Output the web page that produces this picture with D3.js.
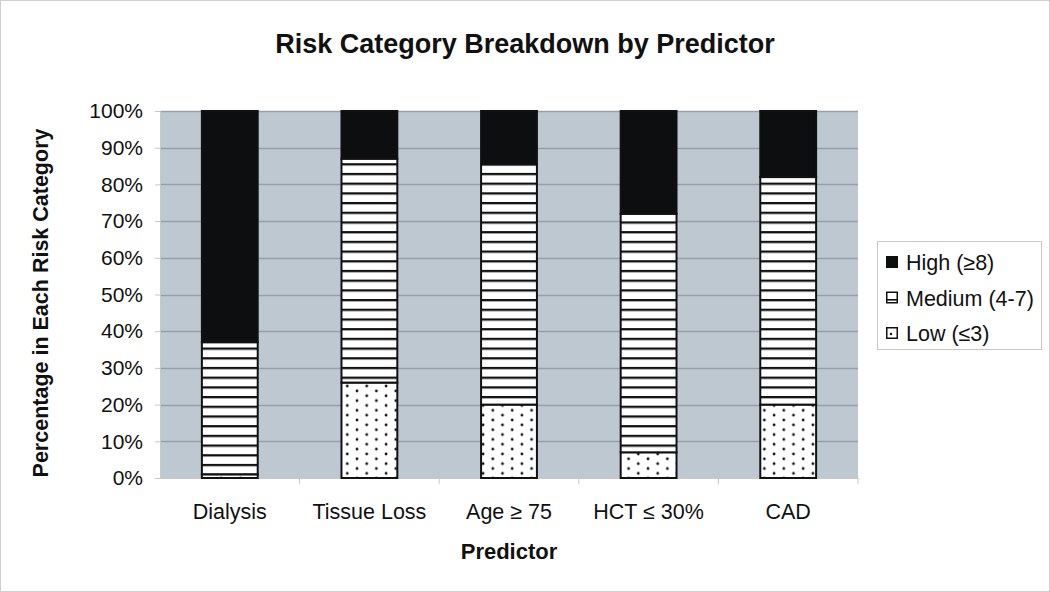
<!DOCTYPE html>
<html>
<head>
<meta charset="utf-8">
<script src="https://cdn.jsdelivr.net/npm/d3@7"></script>
<style>
  html, body { margin: 0; padding: 0; background: #fff; }
  svg { display: block; font-family: "Liberation Sans", Arial, sans-serif; }
</style>
</head>
<body>
<div id="chart"></div>
<script>
const predictors = ['Dialysis', 'Tissue Loss', 'Age \u2265 75', 'HCT \u2264 30%', 'CAD'];
const lowValues = [1, 26, 20, 7, 20];
const mediumValues = [36, 61, 65.5, 65, 62];
const highValues = [63, 13, 14.5, 28, 18];
const seriesNames = ['Low (\u22643)', 'Medium (4-7)', 'High (\u22658)'];
const yTicks = [0, 10, 20, 30, 40, 50, 60, 70, 80, 90, 100];

const width = 1050, height = 592;
const margin = { top: 111, right: 192, bottom: 114, left: 160 };
const plotW = width - margin.left - margin.right;
const plotH = height - margin.top - margin.bottom;

const rows = predictors.map((p, i) => ({
  predictor: p,
  low: lowValues[i], medium: mediumValues[i], high: highValues[i]
}));
const keys = ['low', 'medium', 'high'];
const stacked = d3.stack().keys(keys)(rows);

const svg = d3.select('#chart').append('svg')
  .attr('width', width).attr('height', height);

// outer frame
svg.append('rect')
  .attr('x', 0.5).attr('y', 0.5)
  .attr('width', width - 1).attr('height', height - 1)
  .attr('fill', '#fff').attr('stroke', '#cfcfd3');

// -- patterns
const defs = svg.append('defs');
const stripes = defs.append('pattern')
  .attr('id', 'stripes').attr('patternUnits', 'userSpaceOnUse')
  .attr('x', 0).attr('y', margin.top + plotH + 1)
  .attr('width', 10).attr('height', 9.7);
stripes.append('rect').attr('width', 10).attr('height', 9.7).attr('fill', '#fff');
stripes.append('rect').attr('y', 0).attr('width', 10).attr('height', 2.3).attr('fill', '#111');

const dots = defs.append('pattern')
  .attr('id', 'dots').attr('patternUnits', 'userSpaceOnUse')
  .attr('x', 1).attr('y', margin.top + plotH - 6)
  .attr('width', 19.4).attr('height', 9.7);
dots.append('rect').attr('width', 19.4).attr('height', 9.7).attr('fill', '#fff');
[[2, 2], [11.7, 6.85], [11.7, -2.85]].forEach(([cx, cy]) => {
  dots.append('circle').attr('cx', cx).attr('cy', cy).attr('r', 1.4).attr('fill', '#111');
});

const fills = { low: 'url(#dots)', medium: 'url(#stripes)', high: '#0d0e10' };

const g = svg.append('g').attr('transform', `translate(${margin.left},${margin.top})`);

const x = d3.scaleBand().domain(predictors).range([0, plotW]).paddingInner(0.6).paddingOuter(0.3);
const xOuter = d3.scaleBand().domain(predictors).range([0, plotW]);
const y = d3.scaleLinear().domain([0, 100]).range([plotH, 0]);

// plot background
g.append('rect').attr('width', plotW).attr('height', plotH).attr('fill', '#bec8d0');

// gridlines
g.append('g').selectAll('line').data(yTicks.slice(1)).join('line')
  .attr('x1', 0).attr('x2', plotW)
  .attr('y1', d => Math.round(y(d)) + 0.5).attr('y2', d => Math.round(y(d)) + 0.5)
  .attr('stroke', '#969fa7').attr('stroke-width', 1.3);

// y axis
const yAxis = g.append('g')
  .call(d3.axisLeft(y).tickValues(yTicks).tickFormat(d => d + '%').tickSize(5).tickPadding(12));
yAxis.select('.domain').attr('stroke', '#c8c8c8');
yAxis.selectAll('.tick line').attr('stroke', '#c8c8c8');
yAxis.selectAll('text').attr('font-size', 21).attr('fill', '#111')
  .attr('font-family', '"Liberation Sans", Arial, sans-serif');

// x axis
const xAxis = g.append('g').attr('transform', `translate(0,${plotH})`)
  .call(d3.axisBottom(xOuter).tickSize(0).tickPadding(26));
xAxis.select('.domain').attr('stroke', '#c8c8c8');
xAxis.selectAll('text').attr('font-size', 21.5).attr('fill', '#111')
  .attr('font-family', '"Liberation Sans", Arial, sans-serif');
g.append('g').selectAll('line').data(predictors.slice(1).concat(['end'])).join('line')
  .attr('x1', d => d === 'end' ? plotW : xOuter(d)).attr('x2', d => d === 'end' ? plotW : xOuter(d))
  .attr('y1', plotH).attr('y2', plotH + 6)
  .attr('stroke', '#c8c8c8');

// bars
g.append('g').selectAll('g').data(stacked).join('g')
  .attr('fill', d => fills[d.key])
  .selectAll('rect').data(d => d).join('rect')
  .attr('x', d => x(d.data.predictor))
  .attr('width', x.bandwidth())
  .attr('y', d => y(d[1]))
  .attr('height', d => y(d[0]) - y(d[1]))
  .attr('stroke', '#111').attr('stroke-width', 2);

// title
svg.append('text')
  .attr('x', 525).attr('y', 53)
  .attr('text-anchor', 'middle').attr('font-size', 27).attr('font-weight', 'bold').attr('fill', '#111')
  .text('Risk Category Breakdown by Predictor');

// axis titles
svg.append('text')
  .attr('x', margin.left + plotW / 2).attr('y', 559)
  .attr('text-anchor', 'middle').attr('font-size', 22).attr('font-weight', 'bold').attr('fill', '#111')
  .text('Predictor');
svg.append('text')
  .attr('transform', `translate(48,303) rotate(-90)`)
  .attr('text-anchor', 'middle').attr('font-size', 21.5).attr('font-weight', 'bold').attr('fill', '#111')
  .text('Percentage in Each Risk Category');

// legend
const legend = svg.append('g').attr('transform', 'translate(877,241)');
legend.append('rect').attr('x', 0.5).attr('y', 0.5).attr('width', 164).attr('height', 108)
  .attr('fill', '#fff').attr('stroke', '#c8c8c8');
const legendKeys = ['high', 'medium', 'low'];
const legendNames = [seriesNames[2], seriesNames[1], seriesNames[0]];
legendKeys.forEach((k, i) => {
  const ly = 21 + i * 35.5;
  const sw = legend.append('g').attr('transform', `translate(9,${ly - 6})`);
  if (k === 'high') {
    sw.append('rect').attr('width', 12).attr('height', 12).attr('fill', '#0d0e10');
  } else {
    sw.append('rect').attr('x', 0.75).attr('y', 0.75).attr('width', 10.5).attr('height', 10.5)
      .attr('fill', '#fff').attr('stroke', '#111').attr('stroke-width', 1.5);
    if (k === 'medium') {
      sw.append('rect').attr('x', 1).attr('y', 7.5).attr('width', 10).attr('height', 1.6).attr('fill', '#111');
    } else {
      sw.append('circle').attr('cx', 5).attr('cy', 7).attr('r', 1.2).attr('fill', '#111');
    }
  }
  legend.append('text').attr('x', 29).attr('y', ly + 8)
    .attr('font-size', 21.5).attr('fill', '#111').text(legendNames[i]);
});
</script>
</body>
</html>
